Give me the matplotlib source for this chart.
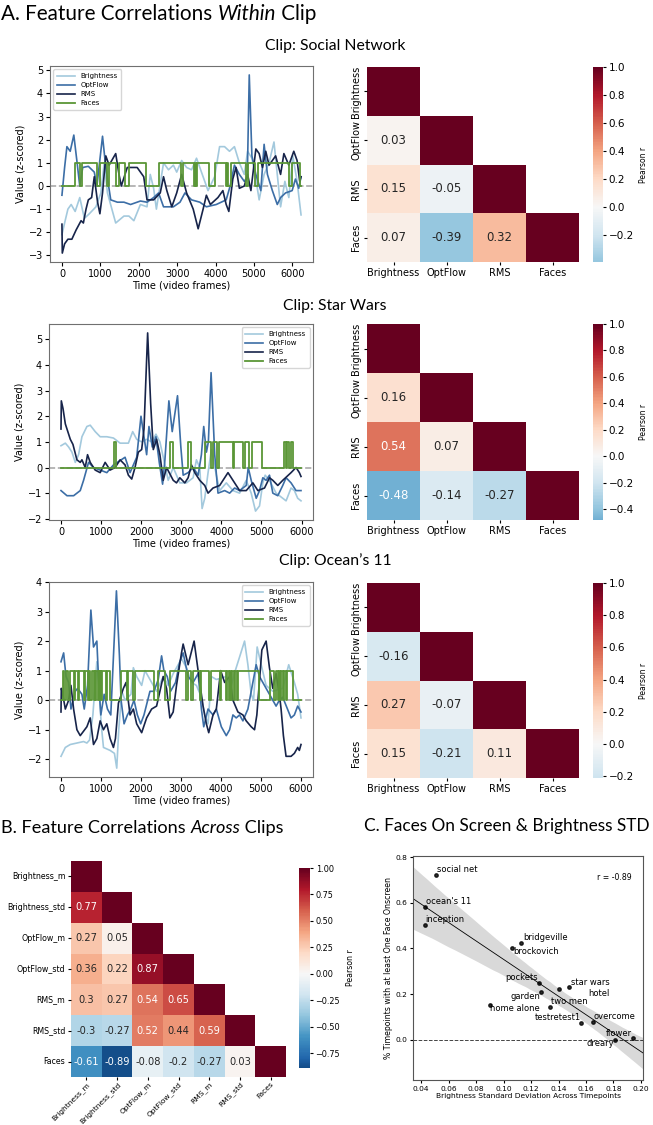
import numpy as np
import pandas as pd
import matplotlib
matplotlib.use("Agg")
import matplotlib.pyplot as plt
import seaborn as sns

# ---------------- data ----------------
features = ["Brightness", "OptFlow", "RMS", "Faces"]

# Social Network time series (frame, z-value)
sn_bright_t = [0, 69, 155, 240, 344, 464, 584, 713, 885, 1014, 1100, 1185, 1400, 1615, 1744, 1873, 2044, 2216,
               2300, 2388, 2460, 2646, 2775, 2903, 2989, 3118, 3247, 3376, 3505, 3634, 3805, 3977, 4106, 4235,
               4364, 4493, 4621, 4750, 4836, 4948, 5051, 5137, 5266, 5394, 5523, 5609, 5695, 5807, 5910, 6013,
               6125, 6228]
sn_bright_v = [-2.1, -1.6, -1.0, -0.8, -1.1, -0.5, -1.4, -1.2, -0.9, -0.3, 1.0, -0.3, -1.6, -1.3, -1.3, -1.5,
               -0.8, -0.9, 0.5, -0.1, -1.0, 1.0, 0.7, 0.9, 0.6, 1.1, 0.8, 0.7, 1.2, 0.6, -0.2, 0.4, 1.7, 1.7,
               1.5, 1.7, 1.0, 0.5, 1.5, 1.2, 0.3, -0.6, 0.5, 1.0, 1.9, 0.5, -0.9, 0.2, -0.5, 1.3, 0.2, -1.25]
sn_flow_t = [0, 69, 129, 215, 309, 395, 464, 541, 687, 842, 911, 1057, 1142, 1271, 1443, 1615, 1787, 2044,
             2216, 2388, 2517, 2646, 2903, 3075, 3204, 3376, 3591, 3762, 4020, 4278, 4381, 4493, 4621, 4750,
             4828, 4879, 4948, 5051, 5180, 5266, 5352, 5481, 5609, 5695, 5824, 5996, 6082, 6168, 6228]
sn_flow_v = [-0.4, 0.8, 1.7, 1.5, 2.2, 1.0, 0.0, 0.8, 0.85, 0.6, 0.0, 2.15, 0.8, -0.6, -0.7, -0.7, -0.8, -0.65,
             -0.7, -0.5, -0.3, -0.9, -0.9, -0.7, -0.3, -0.6, -0.7, -0.9, -0.8, -0.6, 0.0, 0.9, 0.5, 0.2,
             0.4, 4.8, 1.3, 0.5, -0.2, 1.8, 0.5, -0.2, -0.8, -0.5, -0.3, -0.2, 0.3, -0.1, 0.4]
sn_rms_t = [0, 9, 69, 155, 258, 369, 498, 558, 627, 687, 773, 842, 928, 988, 1057, 1142, 1228, 1400, 1486,
            1546, 1701, 1959, 2130, 2216, 2388, 2560, 2646, 2732, 2861, 2989, 3118, 3247, 3419, 3548, 3677,
            3762, 3866, 4063, 4192, 4278, 4347, 4450, 4535, 4621, 4750, 4836, 4922, 5051, 5137, 5223, 5309,
            5394, 5566, 5695, 5781, 5910, 6039, 6125, 6193, 6228]
sn_rms_v = [-1.65, -2.9, -2.5, -2.3, -2.3, -1.9, -1.5, -1.6, -1.0, -0.6, -0.5, 0.4, -0.7, -1.2, -0.3, 1.3, 0.9,
            1.4, 0.5, 0.0, 0.8, 0.8, 0.4, -0.6, -0.6, -0.3, 0.4, -0.2, -0.9, -0.3, 0.5, -0.3, -1.0, -1.85,
            -1.0, -0.4, -0.8, -0.5, -0.2, -0.8, -1.1, 0.3, 0.8, -0.1, 0.0, 0.5, -0.2, 1.6, 1.4, 0.8, 1.5, 0.9,
            1.3, 0.5, 1.4, 0.9, 1.5, 1.1, 0.2, 0.4]
sn_faces_on = [(344, 464), (533, 902), (979, 1168), (1228, 1400), (1486, 1632), (1744, 2190), (2525, 3100),
               (3161, 3440), (3470, 3479), (3505, 3823), (3977, 4278), (4300, 4320), (4407, 4793),
               (4836, 5034), (5094, 5910), (5996, 6193)]
sn_end = 6228

# Star Wars
sw_bright_t = [0, 108, 190, 273, 356, 439, 522, 646, 729, 853, 977, 1143, 1308, 1474, 1681, 1788, 1888, 2012,
               2136, 2260, 2368, 2467, 2592, 2674, 2799, 2964, 3130, 3295, 3378, 3461, 3519, 3585, 3668, 3751,
               3875, 3958, 4123, 4289, 4455, 4620, 4744, 4852, 4951, 5034, 5092, 5200, 5365, 5614, 5738, 5821,
               5904, 5986]
sw_bright_v = [0.85, 0.95, 0.8, 0.6, 0.2, 0.5, 1.2, 1.6, 1.65, 1.4, 1.2, 1.2, 1.15, 0.95, 0.95, 1.4, 1.1, 1.0,
               1.1, 1.0, 1.3, 1.0, 0.1, -0.5, 0.0, -0.6, -0.6, -0.4, 0.3, 0.0, -1.6, -1.2, -0.2, 0.7, -0.3,
               -0.9, -0.6, -0.9, -1.0, -0.5, -1.0, -1.7, -1.5, -0.6, -0.3, -0.5, -1.0, -1.3, -0.8, -0.9, -1.2,
               -1.3]
sw_flow_t = [0, 149, 315, 480, 563, 687, 811, 977, 1143, 1308, 1598, 1722, 1888, 1995, 2070, 2136, 2194, 2277,
             2368, 2451, 2534, 2592, 2691, 2774, 2906, 2989, 3047, 3171, 3295, 3420, 3502, 3560, 3627, 3676,
             3743, 3834, 3916, 4082, 4206, 4330, 4455, 4620, 4670, 4744, 4869, 4951, 5034, 5117, 5200, 5283,
             5407, 5531, 5614, 5738, 5862, 5986]
sw_flow_v = [-0.9, -1.1, -1.1, -0.9, -0.5, 0.2, 0.0, -0.1, -0.2, 0.1, 0.4, -0.2, 0.4, 2.0, 1.2, 0.5, 1.6, 0.8,
             1.2, 0.2, -0.65, 0.3, 2.6, 1.4, 2.8, 0.8, -0.3, -0.2, 0.0, -0.3, 0.5, 1.6, 0.6, 1.0, 3.7, 0.5,
             -1.0, -0.9, -1.0, -0.8, -0.9, -0.7, 0.0, -0.5, -1.2, -0.9, -0.4, -0.5, -0.3, -1.0, -1.1, -0.7,
             -0.4, -0.6, -0.9, -0.9]
sw_rms_t = [0, 8, 50, 108, 232, 298, 397, 480, 522, 604, 662, 729, 853, 977, 1101, 1225, 1350, 1474, 1598,
            1681, 1764, 1846, 1929, 2012, 2070, 2161, 2236, 2302, 2385, 2467, 2550, 2633, 2799, 2881, 2964,
            3088, 3171, 3254, 3337, 3461, 3585, 3668, 3792, 3958, 4082, 4165, 4289, 4455, 4620, 4786, 4910,
            5076, 5200, 5283, 5407, 5531, 5738, 5862, 5945, 5986]
sw_rms_v = [1.5, 2.6, 2.3, 1.7, 1.1, 0.9, 0.3, 0.2, 0.3, 0.0, 0.5, 0.2, -0.1, -0.2, 0.2, -0.1, 0.0, 0.3, 0.1,
            -0.3, -0.45, 0.0, 0.6, 0.7, 1.5, 5.25, 2.5, 0.7, 1.1, 0.5, -0.5, 0.0, -0.5, -0.6, -0.4, -0.6,
            -0.4, 0.1, -0.2, -0.5, -0.7, -1.0, -0.8, -0.7, -0.4, -0.2, -0.5, -0.9, -0.9, -0.6, -0.9, -0.8,
            -0.4, -0.5, -0.7, -0.5, -0.2, 0.0, -0.2, -0.35]
sw_faces_on = [(1333, 1366), (2716, 2782), (3171, 3254), (3602, 3743), (3792, 3892), (3941, 4289),
               (4314, 4537), (4579, 4686), (4761, 5018), (5572, 5614), (5639, 5697), (5738, 5779)]
sw_end = 5986

# Ocean's 11
oc_bright_t = [0, 108, 232, 398, 564, 647, 714, 797, 896, 955, 1004, 1062, 1228, 1336, 1394, 1444, 1519, 1602,
               1751, 1809, 1892, 2017, 2100, 2266, 2390, 2556, 2681, 2805, 3013, 3137, 3262, 3386, 3511, 3594,
               3677, 3760, 3884, 4133, 4258, 4358, 4590, 4673, 4756, 4814, 4905, 5005, 5129, 5295, 5544, 5694,
               5835, 5918, 6001]
oc_bright_v = [-1.9, -1.6, -1.5, -1.45, -1.4, -1.45, -1.35, -0.5, 1.3, 0.5, -0.8, -1.6, -1.7, -1.8, -2.3, -1.0,
               0.3, 0.0, 0.2, 1.1, 0.8, 0.5, 1.0, 0.6, 0.3, 0.8, 0.5, 0.9, 1.4, 1.1, 0.6, 0.5, 0.1, -0.5, -0.8,
               0.8, 0.7, 0.8, 0.5, 1.0, 2.0, 1.2, 0.2, 0.0, 1.8, 1.2, 0.5, 0.3, 0.4, 1.2, 0.6, 0.2, -0.6]
oc_flow_t = [0, 66, 125, 191, 249, 357, 415, 523, 581, 664, 747, 813, 896, 946, 996, 1079, 1162, 1245, 1386,
             1461, 1502, 1577, 1660, 1743, 1826, 1909, 1992, 2075, 2224, 2324, 2432, 2515, 2573, 2656, 2739,
             2864, 2971, 3054, 3179, 3303, 3428, 3511, 3569, 3677, 3801, 3884, 4009, 4133, 4216, 4299, 4382,
             4465, 4548, 4673, 4880, 4963, 5129, 5254, 5378, 5461, 5544, 5752, 5835, 5918, 6001]
oc_flow_v = [1.3, 1.6, 0.8, 0.6, -0.3, 0.3, 0.4, 0.2, -0.3, 0.5, 3.05, 1.8, 2.0, 0.5, -0.5, 0.2, -0.3, -0.5,
             3.7, 1.5, 0.0, -0.8, -0.5, -0.3, 0.0, -0.5, -0.8, -0.5, 0.3, 0.3, 0.7, 1.5, 1.0, 0.8, 0.3, 0.6,
             1.3, 1.6, 0.8, 0.6, 0.9, -0.3, -0.9, -0.3, -0.5, -0.3, -0.9, -1.2, -1.0, -0.5, -0.6, -0.5, -0.7,
             -0.3, 1.2, 0.8, 0.4, 0.1, -0.2, 0.0, 0.1, -0.6, -0.5, -0.2, -0.4]
oc_rms_t = [0, 8, 42, 108, 191, 249, 315, 398, 481, 564, 647, 730, 813, 896, 979, 1062, 1145, 1228, 1311,
            1361, 1436, 1560, 1627, 1726, 1809, 1892, 2017, 2141, 2266, 2390, 2556, 2639, 2722, 2805, 2888,
            3013, 3054, 3179, 3328, 3428, 3552, 3635, 3694, 3801, 3884, 3992, 4092, 4216, 4299, 4424, 4548,
            4631, 4756, 4839, 4897, 5022, 5129, 5212, 5295, 5378, 5461, 5503, 5561, 5627, 5752, 5835, 5918,
            5959, 6001]
oc_rms_v = [-0.4, 0.4, 0.2, -0.3, 0.0, 0.5, -0.3, -1.0, -1.2, -1.05, -0.9, -0.6, -1.5, -1.3, -0.7, -1.0, -0.8,
            -1.3, -1.6, -1.3, -0.1, 0.4, 0.6, -0.5, -0.3, -0.8, -1.1, -0.6, -0.3, -0.2, 0.8, 0.4, -0.6, -0.4,
            0.5, 1.6, 1.9, 1.2, 2.0, 1.0, -0.2, -0.8, -1.1, -0.5, -0.3, 1.0, 0.6, 0.8, 0.0, -0.4, -0.5, -0.7,
            -0.9, -1.0, -0.5, 1.7, 2.0, 1.1, 0.4, 0.9, 0.2, -0.3, -1.2, -1.9, -1.9, -1.8, -1.6, -1.7, -1.5]
oc_faces_on = [(41, 83), (116, 174), (216, 315), (357, 415), (448, 564), (606, 664), (697, 730), (764, 813),
               (838, 855), (880, 913), (938, 963), (979, 996), (1021, 1129), (1162, 1228), (1494, 1643),
               (1685, 1809), (1851, 2324), (2432, 2598), (2722, 3137), (3179, 3262), (3303, 3469), (3511, 3702),
               (3743, 3967), (4009, 4133), (4158, 4192), (4216, 4258), (4283, 4316), (4341, 4399), (4432, 4963),
               (5229, 5337), (5378, 5420), (5445, 5478), (5503, 5544), (5569, 5627), (5644, 5793)]
oc_end = 6001

# within-clip correlation matrices
sn_corr = [[1.0, 0.03, 0.15, 0.07],
           [0.03, 1.0, -0.05, -0.39],
           [0.15, -0.05, 1.0, 0.32],
           [0.07, -0.39, 0.32, 1.0]]
sw_corr = [[1.0, 0.16, 0.54, -0.48],
           [0.16, 1.0, 0.07, -0.14],
           [0.54, 0.07, 1.0, -0.27],
           [-0.48, -0.14, -0.27, 1.0]]
oc_corr = [[1.0, -0.16, 0.27, 0.15],
           [-0.16, 1.0, -0.07, -0.21],
           [0.27, -0.07, 1.0, 0.11],
           [0.15, -0.21, 0.11, 1.0]]

# across-clip correlations
clip_feats = ["Brightness_m", "Brightness_std", "OptFlow_m", "OptFlow_std", "RMS_m", "RMS_std", "Faces"]
clip_lower = [[],
              [0.77],
              [0.27, 0.05],
              [0.36, 0.22, 0.87],
              [0.3, 0.27, 0.54, 0.65],
              [-0.3, -0.27, 0.52, 0.44, 0.59],
              [-0.61, -0.89, -0.08, -0.2, -0.27, 0.03]]

# faces on screen vs brightness std
clip_names = ["social net", "ocean's 11", "inception", "bridgeville", "brockovich", "pockets", "garden",
              "star wars", "hotel", "two men", "home alone", "testretest1", "overcome", "flower", "dreary"]
bright_std = [0.0505, 0.0424, 0.0424, 0.113, 0.1061, 0.1258, 0.1275, 0.1477, 0.1402, 0.1336, 0.0901,
              0.1567, 0.165, 0.1944, 0.181]
faces_pct = [0.722, 0.582, 0.503, 0.425, 0.403, 0.25, 0.21, 0.232, 0.222, 0.144, 0.154, 0.072, 0.079,
             0.006, 0.0]
r_text = "r = -0.89"

# ---------------- layout helpers ----------------
W, H = 653, 1125
fig = plt.figure(figsize=(W / 100, H / 100), dpi=100)
TITLE_FONT = "Lato"


def box(x0, y0, x1, y1):
    return fig.add_axes([x0 / W, 1 - y1 / H, (x1 - x0) / W, (y1 - y0) / H])


def faces_steps(intervals, end):
    xs, ys = [0], [0]
    for a, b in intervals:
        xs += [a, a, b, b]
        ys += [0, 1, 1, 0]
    xs.append(end)
    ys.append(0)
    return xs, ys


def mixed_title(x_px, y_px, parts, size):
    r = fig.canvas.get_renderer()
    for s, style in parts:
        t = fig.text(x_px / W, 1 - y_px / H, s, fontsize=size, family=TITLE_FONT, style=style,
                     va="center", ha="left")
        x_px += t.get_window_extent(r).width


line_colors = {"Brightness": "#a3c9dd", "OptFlow": "#3c6ea6", "RMS": "#17244a", "Faces": "#5a9636"}


def time_plot(ax, series, faces, end, legend_loc):
    ax.axhline(0, color="#aaaaaa", ls="--", lw=1.2, zorder=0)
    for name, (t, v) in zip(features[:3], series):
        ax.plot(t, v, color=line_colors[name], lw=1.2, label=name)
    fx, fy = faces_steps(faces, end)
    ax.plot(fx, fy, color=line_colors["Faces"], lw=1.3, label="Faces")
    ax.set_xlabel("Time (video frames)", fontsize=7, labelpad=1)
    ax.set_ylabel("Value (z-scored)", fontsize=7, labelpad=2)
    ax.tick_params(labelsize=7, length=3, pad=2)
    ax.set_xticks([0, 1000, 2000, 3000, 4000, 5000, 6000])
    for sp in ax.spines.values():
        sp.set_color("#707070")
    ax.legend(loc=legend_loc, fontsize=5, handlelength=2.6, borderpad=0.5, labelspacing=0.45)


def corr_heatmap(ax, cax, mat, labels, annot_size, tick_size, cbar_tick_size, label_size):
    mat = np.array(mat)
    n = len(labels)
    mask = np.triu(np.ones((n, n), dtype=bool), k=1)
    annot = np.empty((n, n), dtype=object)
    for i in range(n):
        for j in range(n):
            annot[i, j] = "" if i <= j else f"{mat[i, j]:.2g}"
    df = pd.DataFrame(mat, index=labels, columns=labels)
    sns.heatmap(df, mask=mask, annot=annot, fmt="", cmap="RdBu_r", center=0, ax=ax, cbar_ax=cax,
                annot_kws={"size": annot_size})
    cb = ax.collections[0].colorbar
    cb.set_label("Pearson r", size=label_size)
    cb.ax.tick_params(labelsize=cbar_tick_size, length=2.5, pad=1.5)
    ax.tick_params(labelsize=tick_size, length=2.5, pad=1.5)
    return ax


# ---------------- section A ----------------
mixed_title(1, 14, [("A. Feature Correlations ", "normal"), ("Within", "italic"), (" Clip", "normal")], 14.9)

clips = [
    ("Clip: Social Network", 46, (50, 66, 313, 262), (367, 67, 579, 262),
     [(sn_bright_t, sn_bright_v), (sn_flow_t, sn_flow_v), (sn_rms_t, sn_rms_v)], sn_faces_on, sn_end,
     "upper left", sn_corr),
    ("Clip: Star Wars", 306, (49, 324, 313, 520), (367, 324, 579, 520),
     [(sw_bright_t, sw_bright_v), (sw_flow_t, sw_flow_v), (sw_rms_t, sw_rms_v)], sw_faces_on, sw_end,
     "upper right", sw_corr),
    ("Clip: Ocean\u2019s 11", 561, (49, 582, 313, 777), (367, 583, 579, 778),
     [(oc_bright_t, oc_bright_v), (oc_flow_t, oc_flow_v), (oc_rms_t, oc_rms_v)], oc_faces_on, oc_end,
     "upper right", oc_corr),
]

for title, ty, lbox, hbox, series, faces, end, loc, corr in clips:
    fig.text(335 / W, 1 - ty / H, title, fontsize=11.3, family=TITLE_FONT, ha="center", va="center")
    ax = box(*lbox)
    time_plot(ax, series, faces, end, loc)
    hax = box(*hbox)
    cax = box(593, hbox[1], 603, hbox[3])
    corr_heatmap(hax, cax, corr, features, 8.5, 7, 7.5, 5.5)
    hax.set_xticklabels(features, rotation=0)
    hax.set_yticklabels(features, rotation=90, va="center")

# ---------------- section B ----------------
mixed_title(1, 828, [("B. Feature Correlations ", "normal"), ("Across", "italic"), (" Clips", "normal")], 13.1)
n = len(clip_feats)
across = np.eye(n)
for i, row in enumerate(clip_lower):
    for j, val in enumerate(row):
        across[i, j] = val
        across[j, i] = val
bax = box(71, 861, 286, 1077)
bcax = box(299, 868, 310, 1068)
corr_heatmap(bax, bcax, across, clip_feats, 7.1, 5.7, 5.9, 5.6)
bax.set_yticklabels(clip_feats, rotation=0)
bax.set_xticklabels(clip_feats, rotation=45, ha="right", rotation_mode="anchor", fontsize=5.4)
bax.tick_params(axis="x", pad=0.5)

# ---------------- section C ----------------
fig.text(507 / W, 1 - 826 / H, "C. Faces On Screen & Brightness STD", fontsize=12.4, family=TITLE_FONT,
         ha="center", va="center")
cax_s = box(413, 856, 643, 1080)
cax_s.axhline(0, color="#444444", ls="--", lw=0.7, zorder=0)
sns.regplot(x=np.array(bright_std), y=np.array(faces_pct), ax=cax_s, ci=95, n_boot=1000, seed=0,
            truncate=False, color="k", scatter_kws={"s": 6, "zorder": 3}, line_kws={"lw": 0.6})
cax_s.set_xlim(0.034, 0.2015)
cax_s.set_ylim(-0.176, 0.805)
cax_s.set_xticks([0.04, 0.06, 0.08, 0.10, 0.12, 0.14, 0.16, 0.18, 0.20])
cax_s.set_yticks([0.0, 0.2, 0.4, 0.6, 0.8])
cax_s.tick_params(labelsize=5.4, length=2.5, pad=1.5)
cax_s.set_xlabel("Brightness Standard Deviation Across Timepoints", fontsize=5.4, labelpad=1)
cax_s.set_ylabel("% Timepoints with at least One Face Onscreen", fontsize=5.6, labelpad=2)
for sp in cax_s.spines.values():
    sp.set_color("#555555")

# label offsets in pixels (dx, dy, ha)
label_offsets = {"social net": (1, 5, "left"), "ocean's 11": (1, 5, "left"), "inception": (1, 5, "left"),
                 "bridgeville": (2, 5, "left"), "brockovich": (1, -4, "left"), "pockets": (-1, 5, "right"),
                 "garden": (-1, -5, "right"), "star wars": (2, 4, "left"), "hotel": (29, -4, "left"),
                 "two men": (1, 5, "left"), "home alone": (0, -4, "left"), "testretest1": (-1, 6, "right"),
                 "overcome": (1, 5, "left"), "flower": (-1, 5, "right"), "dreary": (-1, -4, "right")}
for name, x, y in zip(clip_names, bright_std, faces_pct):
    dx, dy, ha = label_offsets[name]
    cax_s.annotate(name, (x, y), xytext=(dx, dy), textcoords="offset pixels", fontsize=6, ha=ha,
                   va="center")
cax_s.text(0.8, 0.906, r_text, transform=cax_s.transAxes, fontsize=5.6, va="center", ha="left")

fig.savefig("out.png", dpi=100, facecolor="white")
